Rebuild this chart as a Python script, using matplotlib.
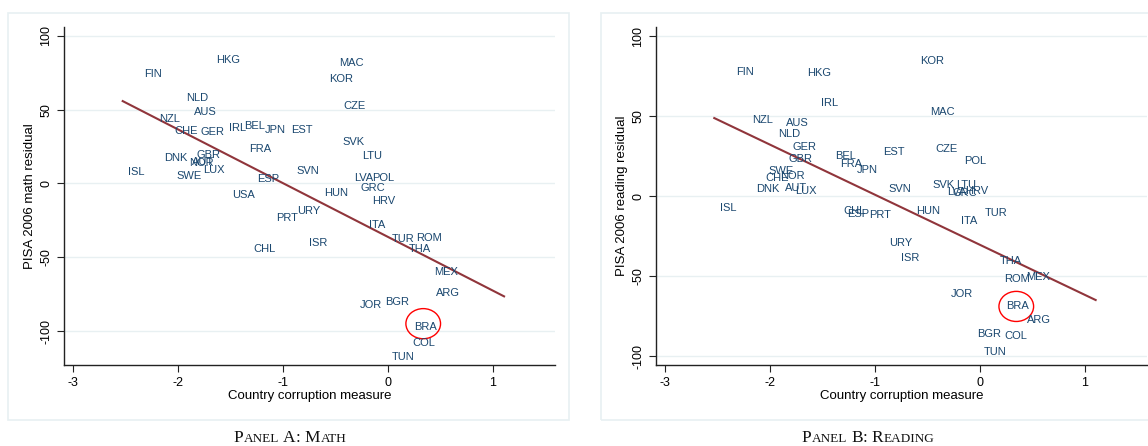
import numpy as np
import matplotlib
matplotlib.use("Agg")
import matplotlib.pyplot as plt
from matplotlib.patches import Rectangle, Ellipse

plt.rcParams['font.family'] = ['Liberation Sans', 'DejaVu Sans']
plt.rcParams['axes.unicode_minus'] = False

# Panel A: math residuals
codes_a = ['HKG', 'FIN', 'MAC', 'KOR', 'NLD', 'CZE', 'AUS', 'NZL', 'CHE', 'GER',
           'IRL', 'BEL', 'JPN', 'EST', 'SVK', 'FRA', 'DNK', 'GBR', 'NOR', 'AUT',
           'LTU', 'LUX', 'ISL', 'SWE', 'SVN', 'LVA', 'POL', 'ESP', 'GRC', 'HUN',
           'USA', 'HRV', 'URY', 'PRT', 'ITA', 'TUR', 'ROM', 'THA', 'CHL', 'ISR',
           'MEX', 'ARG', 'JOR', 'BGR', 'BRA', 'COL', 'TUN']
x_a = [-1.527, -2.238, -0.352, -0.451, -1.822, -0.317, -1.743, -2.076, -1.927, -1.676,
       -1.435, -1.267, -1.076, -0.816, -0.324, -1.219, -2.019, -1.711, -1.781, -1.760,
       -0.156, -1.657, -2.394, -1.892, -0.762, -0.235, -0.044, -1.146, -0.143, -0.498,
       -1.378, -0.041, -0.759, -0.965, -0.101, 0.146, 0.394, 0.298, -1.181, -0.670,
       0.552, 0.568, -0.165, 0.089, 0.352, 0.343, 0.146]
y_a = [83.7, 74.4, 81.8, 71.0, 57.8, 52.4, 48.3, 43.7, 35.4, 34.9,
       37.8, 39.2, 36.5, 36.3, 27.9, 23.3, 17.4, 19.0, 13.6, 14.6,
       18.6, 9.0, 7.7, 5.0, 8.4, 3.4, 3.4, 2.7, -3.4, -6.8,
       -8.0, -12.0, -18.8, -23.4, -28.4, -37.9, -37.0, -44.2, -44.2, -40.6,
       -60.1, -74.4, -82.1, -80.5, -97.1, -108.0, -117.3]
fit_x_a = [-2.527, 1.105]
fit_y_a = [55.8, -76.5]

# Panel B: reading residuals
codes_b = ['FIN', 'HKG', 'KOR', 'IRL', 'MAC', 'NZL', 'AUS', 'NLD', 'GER', 'CZE',
           'EST', 'BEL', 'GBR', 'FRA', 'POL', 'JPN', 'SWE', 'NOR', 'CHE', 'SVK',
           'LTU', 'DNK', 'AUT', 'SVN', 'LUX', 'HRV', 'LVA', 'GRC', 'ISL', 'CHL',
           'HUN', 'TUR', 'ESP', 'PRT', 'ITA', 'URY', 'ISR', 'THA', 'MEX', 'ROM',
           'JOR', 'BRA', 'ARG', 'BGR', 'COL', 'TUN']
x_b = [-2.239, -1.529, -0.454, -1.430, -0.355, -2.074, -1.744, -1.820, -1.675, -0.320,
       -0.821, -1.278, -1.713, -1.230, -0.048, -1.075, -1.890, -1.782, -1.929, -0.349,
       -0.133, -2.020, -1.751, -0.768, -1.659, -0.032, -0.222, -0.143, -2.395, -1.199,
       -0.498, 0.155, -1.158, -0.951, -0.105, -0.758, -0.669, 0.295, 0.555, 0.349,
       -0.171, 0.355, 0.564, 0.089, 0.339, 0.143]
y_b = [77.7, 77.1, 84.6, 58.1, 52.7, 47.7, 45.6, 38.7, 30.8, 29.6,
       27.7, 25.4, 23.1, 20.4, 22.1, 16.2, 15.8, 12.9, 11.2, 7.1,
       7.1, 4.6, 5.2, 4.6, 3.1, 3.3, 2.5, 2.1, -7.3, -9.0,
       -9.2, -10.2, -11.1, -11.7, -15.4, -29.2, -38.6, -40.2, -50.4, -51.7,
       -61.3, -68.6, -77.3, -86.3, -87.3, -97.3]
fit_x_b = [-2.531, 1.101]
fit_y_b = [48.9, -64.8]

circle_a = (0.335, -95.0)
circle_b = (0.345, -68.8)

W, H = 1148, 446
fig = plt.figure(figsize=(W / 100, H / 100), dpi=100)

navy = '#1a476f'
maroon = '#90353b'
gridc = '#e8f0f2'


def px(x0, y0, x1, y1):
    return [x0 / W, 1 - y1 / H, (x1 - x0) / W, (y1 - y0) / H]


def panel(rect, codes, xs, ys, fx, fy, circ, ylim, ylabel, cw, ch):
    ax = fig.add_axes(rect)
    for c, x, y in zip(codes, xs, ys):
        ax.text(x, y, c, ha='center', va='center', fontsize=8, color=navy)
    ax.plot(fx, fy, color=maroon, lw=1.5)
    ax.add_patch(Ellipse(circ, cw, ch, fill=False, edgecolor='red', lw=1.0))
    ax.set_xlim(-3.086, 1.59)
    ax.set_ylim(*ylim)
    ax.set_xticks([-3, -2, -1, 0, 1])
    ax.set_yticks([-100, -50, 0, 50, 100])
    ax.grid(axis='y', color=gridc, lw=1)
    ax.set_axisbelow(True)
    for s in ['top', 'right']:
        ax.spines[s].set_visible(False)
    for s in ['left', 'bottom']:
        ax.spines[s].set_color('#222222')
        ax.spines[s].set_linewidth(1.0)
    ax.tick_params(labelsize=9, length=5, width=0.8, color='#222222')
    for lab in ax.get_yticklabels():
        lab.set_rotation(90)
        lab.set_va('center')
    ax.set_xlabel('Country corruption measure', fontsize=9.5, labelpad=1)
    ax.set_ylabel(ylabel, fontsize=9.5, labelpad=3)
    return ax


# outer frames
fig.add_artist(Rectangle((8 / W, 1 - 420 / H), 561 / W, 407 / H, transform=fig.transFigure,
                         fill=False, edgecolor=gridc, lw=1.2))
fig.add_artist(Rectangle((601 / W, 1 - 420 / H), 561 / W, 407 / H, transform=fig.transFigure,
                         fill=False, edgecolor=gridc, lw=1.2))

panel(px(64, 27, 555, 365), codes_a, x_a, y_a, fit_x_a, fit_y_a, circle_a,
      (-123, 106), 'PISA 2006 math residual', 0.33, 20.4)
panel(px(656, 27, 1147, 365), codes_b, x_b, y_b, fit_x_b, fit_y_b, circle_b,
      (-105.4, 105.8), 'PISA 2006 reading residual', 0.33, 18.8)


def small_caps(xc, yc, words, big=12.5, small=9.5):
    # fake small caps: first letter of each word large, rest small
    runs = []
    for i, w in enumerate(words):
        if i > 0:
            runs.append((' ', big))
        runs.append((w[0], big))
        rest = w[1:]
        tail = ''
        if rest.endswith(':'):
            rest, tail = rest[:-1], ':'
        if rest:
            runs.append((rest.upper(), small))
        if tail:
            runs.append((tail, big))
    fig.canvas.draw()
    r = fig.canvas.get_renderer()
    texts = []
    total = 0
    for s, size in runs:
        t = fig.text(0, yc / H, s, fontsize=size, family='Liberation Serif',
                     va='baseline', ha='left', color='#111111')
        w = t.get_window_extent(r).width if s.strip() else size * 0.25 * 100 / 72
        texts.append((t, w))
        total += w
    x = xc - total / 2
    for t, w in texts:
        t.set_x(x / W)
        x += w


small_caps(290, 446 - 442, ['Panel', 'A:', 'Math'])
small_caps(868, 446 - 442, ['Panel', 'B:', 'Reading'])

fig.savefig('out.png', dpi=100)
